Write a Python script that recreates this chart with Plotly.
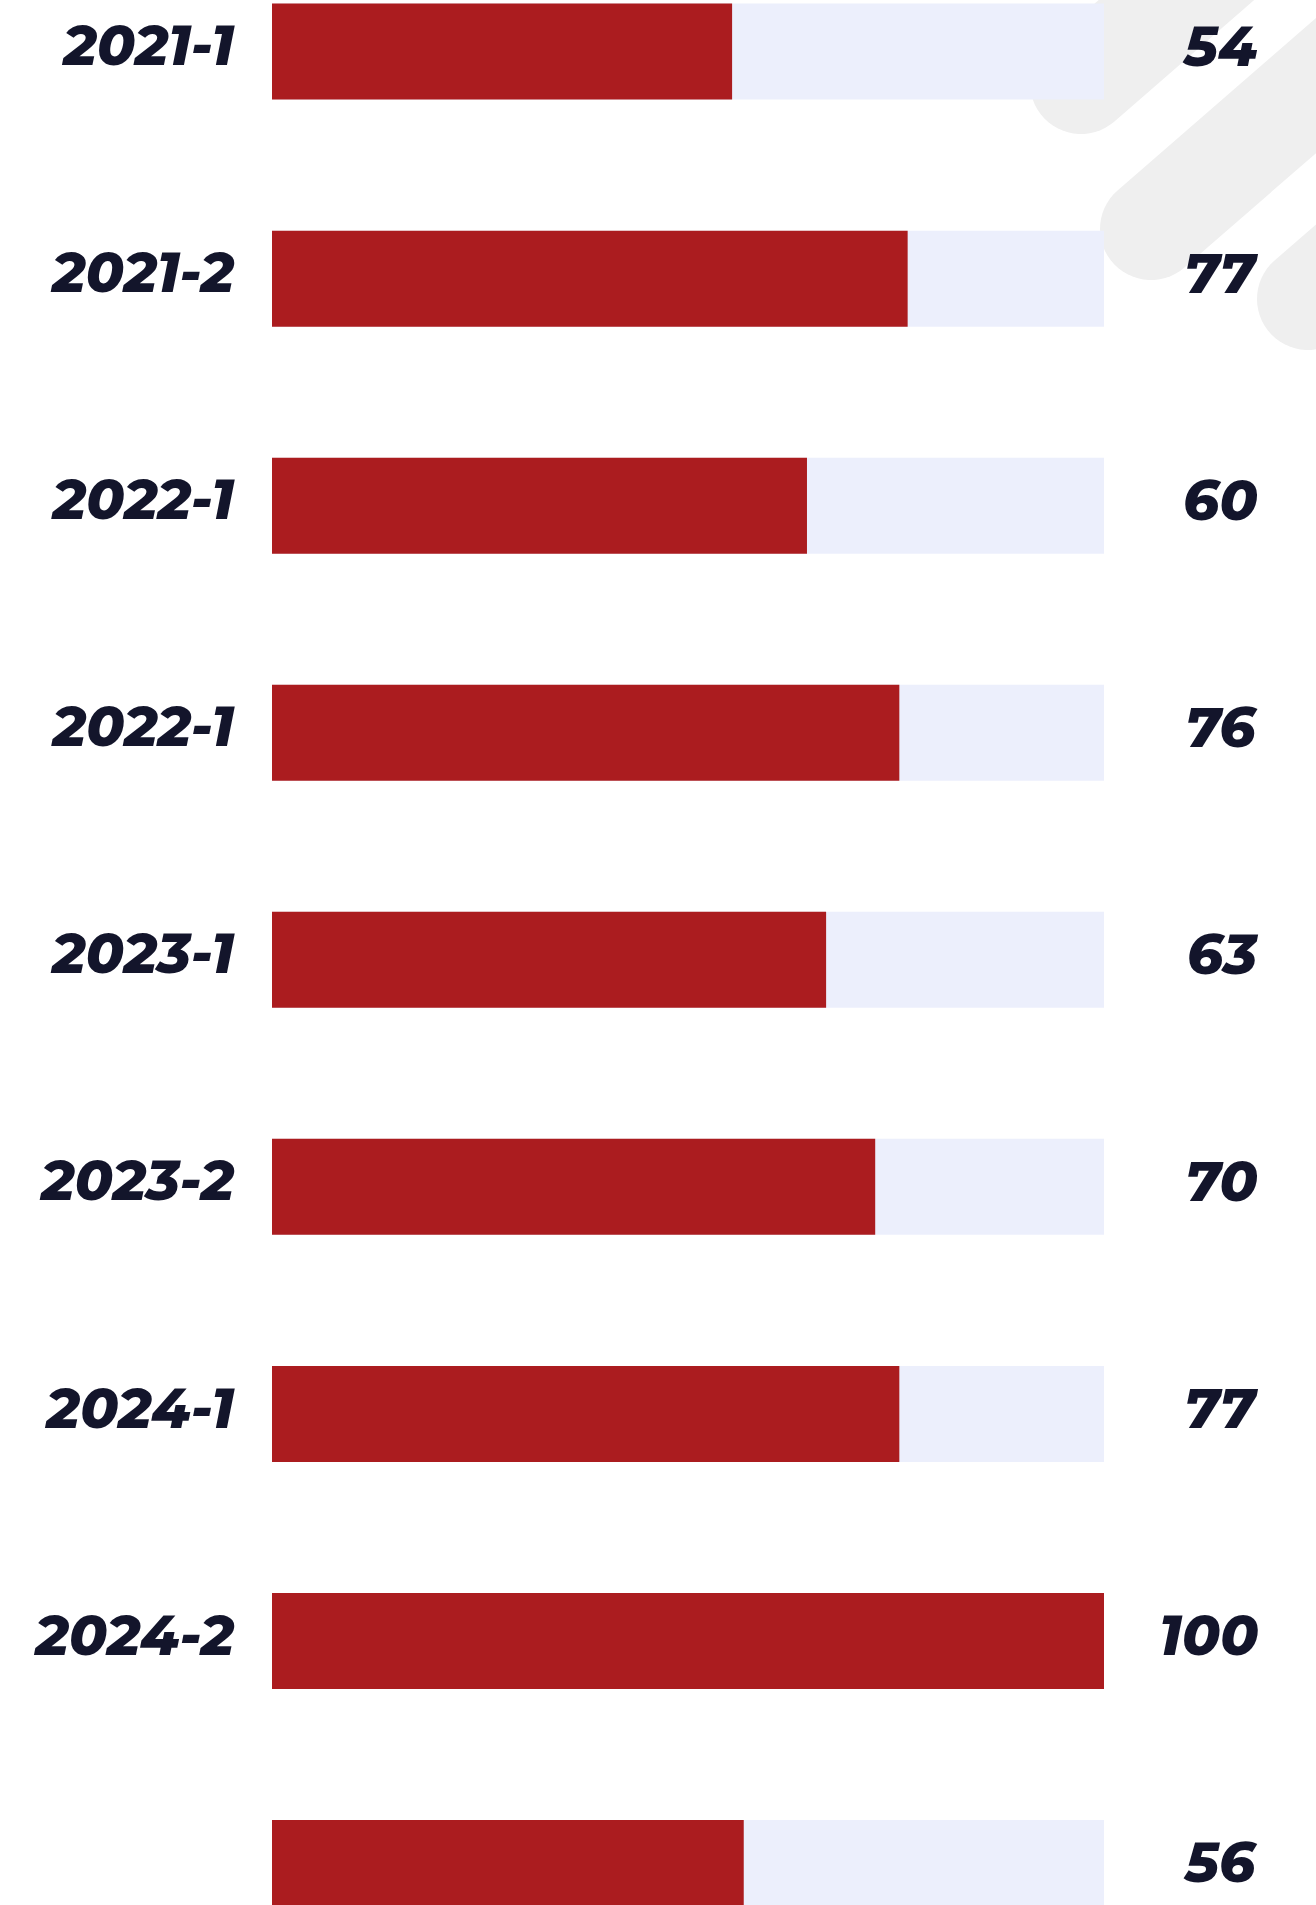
import numpy as np
import plotly.graph_objects as go

# ---- data ----
periods = ["2021-1", "2021-2", "2022-1", "2022-1", "2023-1", "2023-2", "2024-1", "2024-2", ""]
bar_scores = [55.3, 76.4, 64.3, 75.4, 66.6, 72.5, 75.4, 100, 56.7]   # bar lengths
value_labels = [54, 77, 60, 76, 63, 70, 77, 100, 56]                  # printed values
track_max = [100] * len(periods)

W, H = 1316, 1905
RED = "#AB1C1F"
TRACK = "#ECEFFC"
INK = "#13152B"
FONT = "Montserrat, 'Open Sans', sans-serif"

rows = list(range(len(periods)))

fig = go.Figure()
fig.add_trace(go.Bar(y=rows, x=track_max, orientation="h", marker=dict(color=TRACK, line=dict(width=0)),
                     hoverinfo="skip", showlegend=False))
fig.add_trace(go.Bar(y=rows, x=bar_scores, orientation="h", marker=dict(color=RED, line=dict(width=0)),
                     showlegend=False))

# value labels on the right
for r, v in zip(rows, value_labels):
    fig.add_annotation(x=1260 / W, xref="paper", y=r, yref="y", text=str(v), showarrow=False,
                       xanchor="right", yanchor="middle", yshift=6,
                       font=dict(family=FONT, size=56, color=INK, weight=800, style="italic"))

# decorative rounded diagonal stripes (top right)
theta = np.deg2rad(41)
d = np.array([np.cos(theta), -np.sin(theta)])
n = np.array([-np.sin(theta), -np.cos(theta)])
def capsule(cx, cy, r, length=700):
    c = np.array([cx, cy])
    pts = []
    far = c + d * length
    pts.append(far + n * r)
    for a in np.linspace(0, np.pi, 30):
        v = n * np.cos(a) - d * np.sin(a)
        pts.append(c + r * v)
    pts.append(far - n * r)
    path = "M " + " L ".join(f"{p[0] / W:.5f},{1 - p[1] / H:.5f}" for p in pts) + " Z"
    return path

for cx, cy in [(1081, 83), (1151, 229), (1308, 299)]:
    fig.add_shape(type="path", path=capsule(cx, cy, 51), xref="paper", yref="paper",
                  fillcolor="#EFEFEF", line=dict(width=0), layer="below")

pitch = 227.05
y_top = -51.6 / pitch
y_bot = y_top + H / pitch

fig.update_layout(
    width=W, height=H, autosize=False,
    margin=dict(l=0, r=0, t=0, b=0, pad=0),
    paper_bgcolor="white", plot_bgcolor="rgba(0,0,0,0)",
    barmode="overlay", bargap=0.577,
    showlegend=False,
    xaxis=dict(domain=[272 / W, 1104 / W], range=[0, 100], visible=False, fixedrange=True),
    yaxis=dict(range=[y_bot, y_top], tickmode="array", tickvals=rows, ticktext=periods,
               showgrid=False, zeroline=False, showline=False, ticks="", fixedrange=True,
               ticklabelstandoff=37, ticklabelshift=6,
               tickfont=dict(family=FONT, size=56, color=INK, weight=800, style="italic")),
)

fig.write_html("out.html", config={"displayModeBar": False},
               post_script="document.body.style.margin='0';")
